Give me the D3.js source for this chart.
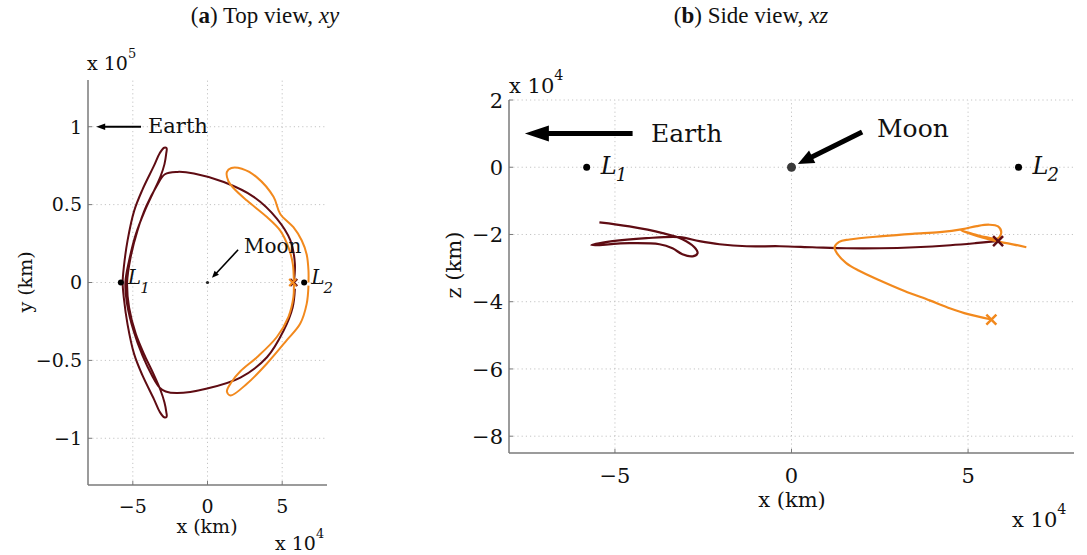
<!DOCTYPE html>
<html>
<head>
<meta charset="utf-8">
<script src="https://cdn.jsdelivr.net/npm/d3@7"></script>
<style>
  body { margin: 0; background: #fff; }
  text { font-family: "DejaVu Serif", serif; fill: #111; }
  .title { font-family: "Liberation Serif", "Times New Roman", serif; font-size: 23px; }
  .grid line { stroke: #c4c4c4; stroke-width: 1; stroke-dasharray: 1.2 3; }
  .axisline { stroke: #7a7a7a; stroke-width: 1.5; }
</style>
</head>
<body>
<script>
// values: x and z in 1e4 km, y in 1e5 km
const xTicks = [-5, 0, 5];
const yTicksA = [-1, -0.5, 0, 0.5, 1];
const zTicksB = [-8, -6, -4, -2, 0, 2];

// top view (x, y)
const darkXY = [
  [5.78, 0.00], [5.85, 0.12], [5.55, 0.27], [4.64, 0.41], [3.09, 0.55], [1.09, 0.645],
  [-0.91, 0.70], [-2.02, 0.71], [-2.85, 0.695],
  [-3.4, 0.62], [-4.1, 0.49], [-4.7, 0.33], [-5.15, 0.16], [-5.38, 0.0], [-5.25, -0.16],
  [-4.8, -0.33], [-4.2, -0.47], [-3.6, -0.59], [-3.15, -0.69], [-2.88, -0.77], [-2.76, -0.83],
  [-2.74, -0.862],
  [-2.9, -0.865], [-3.2, -0.83], [-3.58, -0.75], [-4.36, -0.595], [-4.91, -0.46], [-5.35, -0.27],
  [-5.6, -0.10], [-5.68, 0.0], [-5.6, 0.10], [-5.35, 0.27], [-4.91, 0.46], [-4.36, 0.595],
  [-3.58, 0.75], [-3.2, 0.83], [-2.9, 0.865], [-2.74, 0.862],
  [-2.76, 0.83], [-2.88, 0.76], [-3.15, 0.68], [-3.6, 0.585], [-4.2, 0.46], [-4.8, 0.31],
  [-5.25, 0.14], [-5.5, 0.0], [-5.38, -0.14], [-4.95, -0.31], [-4.35, -0.47], [-3.7, -0.6],
  [-3.2, -0.675], [-2.8, -0.70],
  [-2.02, -0.71], [-0.02, -0.68], [2.2, -0.61], [3.98, -0.48], [5.09, -0.31], [5.7, -0.16],
  [5.85, -0.04]
];
const orangeXY = [
  [6.76, 0.0], [6.76, 0.077], [6.64, 0.18], [6.31, 0.27], [5.75, 0.355], [4.87, 0.44],
  [4.42, 0.55], [3.31, 0.675], [2.3, 0.73], [1.6, 0.735], [1.3, 0.71],
  [1.4, 0.65], [1.8, 0.60], [2.64, 0.526], [3.98, 0.42], [4.87, 0.333], [5.42, 0.226],
  [5.71, 0.12], [5.78, 0.0], [5.75, -0.094], [5.42, -0.22], [4.64, -0.35], [3.31, -0.48],
  [2.2, -0.57], [1.6, -0.64], [1.3, -0.70],
  [1.55, -0.725], [2.64, -0.65], [3.98, -0.52], [5.31, -0.37], [6.2, -0.265], [6.64, -0.137],
  [6.76, -0.02]
];

// side view (x, z)
const darkXZ = [
  [-5.44, -1.64], [-4.59, -1.76], [-3.65, -1.96], [-3.09, -2.14], [-2.75, -2.38], [-2.66, -2.56],
  [-2.80, -2.65], [-3.09, -2.59], [-3.37, -2.41], [-3.74, -2.29], [-4.59, -2.26], [-5.67, -2.32],
  [-5.07, -2.20], [-4.11, -2.11], [-3.17, -2.08], [-2.61, -2.20], [-2.04, -2.29], [-1.27, -2.35],
  [-0.34, -2.35], [0.59, -2.38], [1.56, -2.41], [2.5, -2.41], [3.5, -2.38], [4.5, -2.32],
  [5.2, -2.26], [5.8, -2.20]
];
const orangeXZ = [
  [5.66, -4.53], [5.0, -4.37], [4.5, -4.2], [3.91, -3.96], [3.2, -3.68], [2.49, -3.36],
  [1.9, -3.07], [1.55, -2.85], [1.3, -2.58], [1.22, -2.38], [1.35, -2.22], [1.64, -2.15],
  [2.58, -2.05], [3.43, -1.98], [4.2, -1.93], [4.85, -1.84], [5.25, -1.75], [5.6, -1.71],
  [5.85, -1.76], [5.94, -1.93], [5.84, -2.12], [5.5, -2.08], [5.1, -1.97], [4.8, -1.88],
  [5.1, -1.99], [5.45, -2.1], [5.9, -2.22], [6.3, -2.3], [6.65, -2.38]
];

// special points
const lagrangeA = [{ name: "1", x: -5.8, y: 0 }, { name: "2", x: 6.47, y: 0 }];
const lagrangeB = [{ name: "1", x: -5.8, y: 0 }, { name: "2", x: 6.43, y: 0 }];
const moonPos = [0, 0];
const endsA = [{ x: 5.78, y: 0, c: "dark" }, { x: 5.7, y: 0, c: "orange" }];
const endsB = [{ x: 5.85, y: -2.2, c: "dark" }, { x: 5.66, y: -4.53, c: "orange" }];
const earthArrowA = [[-4.45, 1.0], [-7.45, 1.0]];
const moonArrowA = [[2.05, 0.21], [0.3, 0.03]];
const earthArrowB = [[-4.5, 1.0], [-7.55, 1.0]];
const moonArrowB = [[2.0, 1.05], [0.18, 0.1]];

const colors = { dark: "#5f0c13", orange: "#f2891d" };

const svg = d3.select("body").append("svg")
  .attr("width", 1087)
  .attr("height", 555)
  .style("background", "#fff");

const fmt = d3.format("~g");

// draws dotted grid, axis lines and inward ticks
function frame(g, x, y, xt, yt, fs) {
  const [x0, x1] = x.range();
  const [y0, y1] = y.range();
  const grid = g.append("g").attr("class", "grid");
  grid.selectAll(".gx").data(xt).join("line")
    .attr("x1", d => x(d)).attr("x2", d => x(d)).attr("y1", y0).attr("y2", y1);
  grid.selectAll(".gy").data(yt).join("line")
    .attr("x1", x0).attr("x2", x1).attr("y1", d => y(d)).attr("y2", d => y(d));

  g.append("line").attr("class", "axisline").attr("x1", x0).attr("x2", x0).attr("y1", y0).attr("y2", y1);
  g.append("line").attr("class", "axisline").attr("x1", x0).attr("x2", x1).attr("y1", y0).attr("y2", y0);
  g.selectAll(".tx").data(xt).join("line").attr("class", "axisline").style("stroke-width", 1)
    .attr("x1", d => x(d)).attr("x2", d => x(d)).attr("y1", y0).attr("y2", y0 - 4);
  g.selectAll(".ty").data(yt).join("line").attr("class", "axisline").style("stroke-width", 1)
    .attr("x1", x0).attr("x2", x0 + 4).attr("y1", d => y(d)).attr("y2", d => y(d));

  g.selectAll(".lx").data(xt).join("text")
    .attr("x", d => x(d)).attr("y", y0 + fs * 1.45)
    .attr("text-anchor", "middle").style("font-size", fs + "px")
    .text(fmt);
  g.selectAll(".ly").data(yt).join("text")
    .attr("x", x0 - 6).attr("y", d => y(d)).attr("dy", "0.36em")
    .attr("text-anchor", "end").style("font-size", fs + "px")
    .text(fmt);
}

function times10(g, px, py, exp, fs) {
  const t = g.append("text").attr("x", px).attr("y", py).style("font-size", fs + "px");
  t.append("tspan").text("x 10");
  t.append("tspan").attr("dy", -fs * 0.62).style("font-size", (fs * 0.68) + "px").text(exp);
}

// arrow from seg[0] (tail) to seg[1] (tip)
function arrow(g, x, y, seg, w, headLen, headHalf) {
  const [tail, tip] = seg;
  const ax = x(tail[0]), ay = y(tail[1]), bx = x(tip[0]), by = y(tip[1]);
  const a = Math.atan2(by - ay, bx - ax);
  const cx = bx - headLen * Math.cos(a), cy = by - headLen * Math.sin(a);
  g.append("line").attr("x1", ax).attr("y1", ay)
    .attr("x2", cx + Math.cos(a)).attr("y2", cy + Math.sin(a))
    .attr("stroke", "#000").attr("stroke-width", w);
  const nx = -Math.sin(a) * headHalf, ny = Math.cos(a) * headHalf;
  g.append("path")
    .attr("d", `M${bx},${by}L${cx + nx},${cy + ny}L${cx - nx},${cy - ny}Z`)
    .attr("fill", "#000");
}

function crosses(g, x, y, data, sz, sw) {
  g.selectAll(".xm").data(data).join("path")
    .attr("d", d => {
      const px = x(d.x), py = y(d.y);
      return `M${px - sz},${py - sz}L${px + sz},${py + sz}M${px - sz},${py + sz}L${px + sz},${py - sz}`;
    })
    .attr("stroke", d => colors[d.c]).attr("stroke-width", sw).attr("fill", "none");
}

const line = d3.line().curve(d3.curveCatmullRom.alpha(0.5));

// ---------- panel (a): top view ----------
const xA = d3.scaleLinear().domain([-8, 8]).range([88, 327]);
const yA = d3.scaleLinear().domain([-1.3, 1.3]).range([485, 80]);
const gA = svg.append("g");

gA.append("text").attr("class", "title").attr("x", 265).attr("y", 23).attr("text-anchor", "middle")
  .call(t => {
    t.append("tspan").text("(");
    t.append("tspan").style("font-weight", "bold").text("a");
    t.append("tspan").text(") Top view, ");
    t.append("tspan").style("font-style", "italic").text("xy");
  });

frame(gA, xA, yA, xTicks, yTicksA, 19);
times10(gA, 87, 70, "5", 19);
times10(gA, 275, 550, "4", 19);
gA.append("text").attr("x", 207).attr("y", 533).attr("text-anchor", "middle").style("font-size", "19px").text("x (km)");
gA.append("text").attr("transform", "translate(32,282) rotate(-90)").attr("text-anchor", "middle")
  .style("font-size", "19px").text("y (km)");

gA.append("path").datum(darkXY.map(d => [xA(d[0]), yA(d[1])]))
  .attr("d", line).attr("fill", "none").attr("stroke", colors.dark).attr("stroke-width", 2);
gA.append("path").datum(orangeXY.map(d => [xA(d[0]), yA(d[1])]))
  .attr("d", line).attr("fill", "none").attr("stroke", colors.orange).attr("stroke-width", 2);
crosses(gA, xA, yA, endsA, 3.5, 2);

gA.selectAll(".lp").data(lagrangeA).join("circle")
  .attr("cx", d => xA(d.x)).attr("cy", d => yA(d.y)).attr("r", 3).attr("fill", "#000");
gA.selectAll(".ll").data(lagrangeA).join("text")
  .attr("x", d => xA(d.x) + 7).attr("y", d => yA(d.y) + 1)
  .style("font-size", "20px").style("font-style", "italic")
  .call(t => {
    t.append("tspan").text("L");
    t.append("tspan").attr("dx", -1).attr("dy", 9).style("font-size", "15px").text(d => d.name);
  });
gA.append("circle").attr("cx", xA(moonPos[0])).attr("cy", yA(moonPos[1])).attr("r", 1.6).attr("fill", "#222");
arrow(gA, xA, yA, moonArrowA, 1.6, 7, 3);
arrow(gA, xA, yA, earthArrowA, 1.8, 9, 3.2);
gA.append("text").attr("x", 148).attr("y", 133).style("font-size", "21px").text("Earth");
gA.append("text").attr("x", 244).attr("y", 253).style("font-size", "20px").text("Moon");

// ---------- panel (b): side view ----------
const xB = d3.scaleLinear().domain([-8, 8]).range([509, 1074]);
const zB = d3.scaleLinear().domain([-8.5, 2]).range([453, 100]);
const gB = svg.append("g");

gB.append("text").attr("class", "title").attr("x", 751).attr("y", 23).attr("text-anchor", "middle")
  .call(t => {
    t.append("tspan").text("(");
    t.append("tspan").style("font-weight", "bold").text("b");
    t.append("tspan").text(") Side view, ");
    t.append("tspan").style("font-style", "italic").text("xz");
  });

frame(gB, xB, zB, xTicks, zTicksB, 21);
times10(gB, 509, 93, "4", 21);
times10(gB, 1012, 527, "4", 21);
gB.append("text").attr("x", 792).attr("y", 507).attr("text-anchor", "middle").style("font-size", "21px").text("x (km)");
gB.append("text").attr("transform", "translate(461,265) rotate(-90)").attr("text-anchor", "middle")
  .style("font-size", "21px").text("z (km)");

gB.append("path").datum(darkXZ.map(d => [xB(d[0]), zB(d[1])]))
  .attr("d", line).attr("fill", "none").attr("stroke", colors.dark).attr("stroke-width", 2.2);
gB.append("path").datum(orangeXZ.map(d => [xB(d[0]), zB(d[1])]))
  .attr("d", line).attr("fill", "none").attr("stroke", colors.orange).attr("stroke-width", 2.2);
crosses(gB, xB, zB, endsB, 5, 2.5);

gB.selectAll(".lp").data(lagrangeB).join("circle")
  .attr("cx", d => xB(d.x)).attr("cy", d => zB(d.y)).attr("r", 3.5).attr("fill", "#000");
gB.selectAll(".ll").data(lagrangeB).join("text")
  .attr("x", d => xB(d.x) + 14).attr("y", d => zB(d.y) + 7)
  .style("font-size", "24px").style("font-style", "italic")
  .call(t => {
    t.append("tspan").text("L");
    t.append("tspan").attr("dx", -1).attr("dy", 7).style("font-size", "18px").text(d => d.name);
  });
gB.append("circle").attr("cx", xB(moonPos[0])).attr("cy", zB(moonPos[1])).attr("r", 4.5).attr("fill", "#3a3a3a");
arrow(gB, xB, zB, moonArrowB, 5, 16, 7);
arrow(gB, xB, zB, earthArrowB, 5, 24, 8);
gB.append("text").attr("x", 651).attr("y", 142).style("font-size", "25px").text("Earth");
gB.append("text").attr("x", 877).attr("y", 137).style("font-size", "25px").text("Moon");
</script>
</body>
</html>
